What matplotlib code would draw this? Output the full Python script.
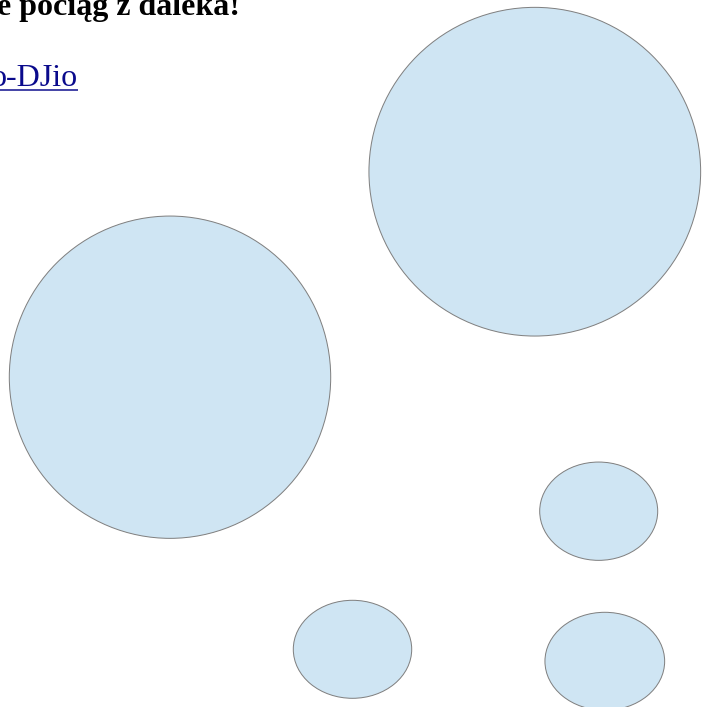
import matplotlib
matplotlib.use("Agg")
import matplotlib.pyplot as plt
from matplotlib.patches import Ellipse

# Pozycje i rozmiary bąbli (w pikselach strony)
bubble_x = [534.8, 170.0, 598.7, 352.5, 604.8]
bubble_y = [171.7, 377.2, 511.2, 649.3, 661.3]
bubble_w = [331.7, 321.4, 118.0, 118.4, 119.7]
bubble_h = [328.7, 322.3, 98.3, 98.0, 98.0]

title_text = "e pociąg z daleka!"
link_text = "o-DJio"

W, H = 704, 707
fig = plt.figure(figsize=(W / 100, H / 100), dpi=100)
ax = fig.add_axes([0, 0, 1, 1])
ax.set_xlim(0, W)
ax.set_ylim(H, 0)
ax.axis("off")

# px -> pt przy dpi 100
px = 0.72

ax.text(-3, 15, title_text, fontsize=32 * px, fontweight="bold",
        family="Liberation Serif", color="black", ha="left", va="baseline")

ax.text(78, 86, link_text, fontsize=32 * px, family="Liberation Serif",
        color="#0a0a8c", ha="right", va="baseline")
ax.plot([0, 77.5], [89.5, 89.5], color="#0a0a8c", lw=1.5 * px,
        solid_capstyle="butt")

for x, y, w, h in zip(bubble_x, bubble_y, bubble_w, bubble_h):
    ax.add_patch(Ellipse((x, y), w, h, facecolor="#cfe5f3",
                         edgecolor="#808080", lw=1 * px))

fig.savefig("out.png", dpi=100)
